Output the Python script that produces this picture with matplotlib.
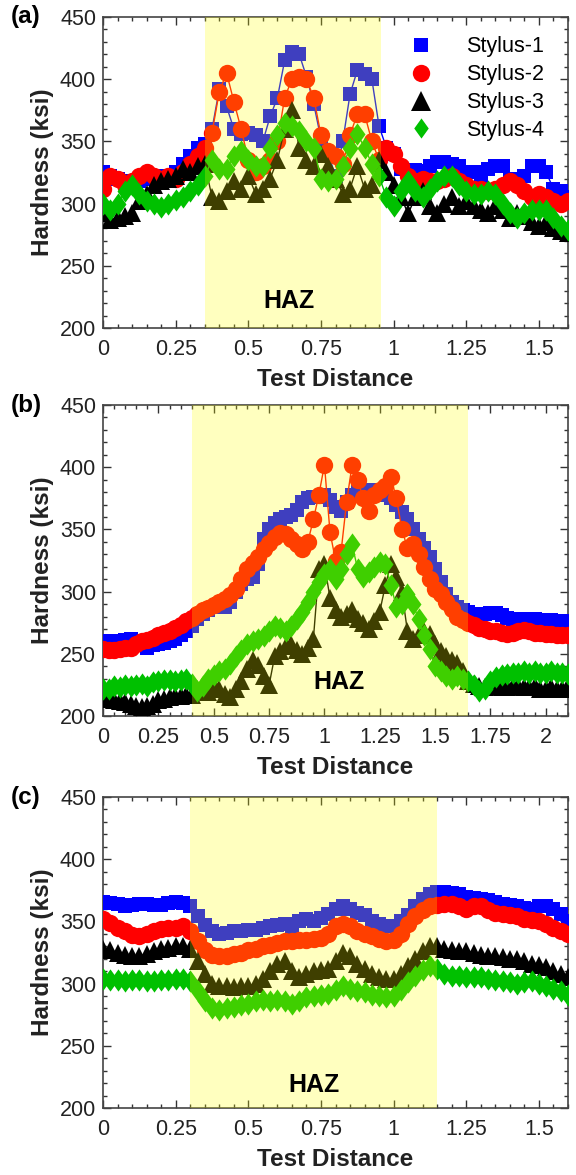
import numpy as np
import matplotlib.pyplot as plt
from matplotlib.ticker import MultipleLocator, FormatStrFormatter

plt.rcParams['font.family'] = ['Liberation Sans', 'DejaVu Sans']

# Microhardness traverses across the weld, three specimens, four styli each
x_a = np.linspace(0, 1.6, 65)
x_b = np.linspace(0, 2.1, 85)
x_c = np.linspace(0, 1.6, 65)

# (a)
s1_a = [325, 322, 320, 318, 315, 318, 320, 322, 322, 320, 325, 332, 338, 345, 348, 360,
        392, 378, 360, 356, 357, 355, 350, 370, 385, 415, 422, 420, 402, 380, 352, 340,
        322, 350, 388, 407, 404, 400, 362, 345, 340, 328, 326, 327, 326, 330, 333, 333,
        332, 330, 325, 325, 320, 328, 330, 330, 320, 318, 322, 330, 330, 325, 312, 310, 305]
s2_a = [312, 322, 320, 315, 318, 322, 325, 322, 320, 322, 320, 325, 332, 338, 345, 357,
        390, 405, 382, 360, 335, 325, 330, 335, 350, 385, 400, 402, 400, 385, 355, 342,
        338, 332, 355, 372, 372, 350, 335, 345, 340, 330, 322, 318, 320, 318, 318, 320,
        322, 318, 315, 312, 312, 310, 312, 315, 318, 315, 310, 305, 308, 305, 302, 300, 302]
s3_a = [292, 287, 288, 290, 292, 302, 308, 315, 318, 320, 322, 328, 325, 330, 332, 305,
        302, 310, 318, 312, 322, 308, 312, 320, 335, 360, 375, 345, 335, 330, 340, 330,
        320, 308, 312, 330, 312, 315, 335, 325, 315, 305, 292, 305, 310, 298, 292, 300,
        305, 298, 302, 298, 295, 292, 298, 295, 288, 292, 290, 285, 282, 285, 280, 278, 276]
s4_a = [300, 295, 300, 310, 315, 308, 302, 300, 297, 300, 303, 305, 310, 315, 322, 335,
        328, 328, 338, 342, 335, 330, 330, 345, 355, 365, 362, 358, 350, 345, 320, 318,
        320, 330, 345, 356, 345, 332, 322, 305, 298, 310, 318, 310, 305, 312, 318, 322,
        322, 315, 310, 308, 308, 310, 308, 300, 292, 288, 292, 295, 295, 295, 288, 282, 279]

# (b)
s1_b = [260, 260, 260, 260, 261, 262, 260, 257, 255, 257, 258, 259, 260, 262, 265, 268,
        272, 278, 282, 285, 288, 290, 288, 292, 300, 306, 310, 312, 322, 342, 350, 355,
        358, 360, 362, 366, 372, 375, 376, 376, 378, 374, 368, 365, 372, 378, 380, 380,
        382, 380, 380, 378, 375, 370, 364, 358, 350, 342, 335, 328, 318, 308, 298, 292,
        288, 285, 284, 282, 280, 282, 283, 283, 281, 279, 278, 278, 278, 278, 278, 277,
        277, 277, 276, 276, 275]
s2_b = [254, 253, 253, 254, 255, 255, 258, 260, 261, 263, 265, 267, 268, 271, 273, 276,
        279, 282, 285, 287, 289, 292, 294, 297, 302, 310, 318, 323, 328, 334, 339, 344,
        347, 346, 342, 338, 334, 340, 358, 378, 402, 348, 325, 332, 372, 402, 390, 375,
        365, 378, 382, 385, 392, 375, 350, 335, 338, 330, 320, 310, 302, 298, 292, 286,
        280, 277, 275, 273, 271, 270, 268, 268, 267, 266, 267, 268, 269, 268, 267, 267,
        266, 266, 265, 265, 265]
s3_b = [216, 214, 213, 212, 211, 210, 208, 207, 208, 210, 213, 214, 215, 216, 216, 217,
        217, 222, 220, 219, 225, 222, 218, 215, 222, 228, 238, 245, 241, 232, 225, 248,
        252, 256, 258, 253, 250, 255, 262, 318, 322, 295, 285, 280, 282, 285, 278, 275,
        270, 276, 284, 305, 322, 312, 300, 268, 262, 265, 268, 266, 258, 252, 248, 245,
        243, 236, 228, 226, 224, 223, 224, 224, 223, 223, 224, 224, 223, 223, 224, 222,
        222, 223, 222, 222, 224]
s4_b = [222, 222, 224, 223, 225, 224, 225, 226, 224, 227, 228, 229, 229, 228, 229, 230,
        226, 220, 224, 230, 233, 236, 238, 242, 248, 253, 258, 260, 262, 264, 268, 272,
        271, 268, 272, 278, 284, 292, 300, 308, 314, 318, 310, 318, 330, 338, 318, 312,
        316, 320, 324, 322, 305, 288, 290, 298, 290, 278, 265, 254, 240, 236, 232, 230,
        232, 230, 228, 225, 220, 222, 228, 231, 233, 234, 235, 235, 236, 235, 236, 235,
        235, 236, 235, 235, 234]

# (c)
s1_c = [366, 365, 364, 362, 363, 364, 364, 363, 363, 365, 366, 365, 362, 354, 347, 342,
        340, 341, 342, 342, 343, 343, 345, 346, 347, 348, 345, 350, 352, 350, 353, 356,
        360, 362, 360, 357, 355, 350, 348, 346, 346, 350, 355, 362, 368, 372, 374, 374,
        373, 372, 370, 369, 368, 367, 366, 364, 363, 362, 361, 360, 362, 362, 360, 356, 350]
s2_c = [352, 349, 345, 342, 339, 338, 340, 342, 344, 345, 345, 346, 342, 334, 327, 323,
        322, 322, 324, 325, 327, 328, 330, 331, 333, 334, 334, 335, 335, 336, 337, 340,
        346, 348, 346, 342, 340, 338, 336, 334, 335, 340, 348, 354, 359, 362, 363, 364,
        364, 362, 360, 362, 362, 359, 357, 356, 355, 354, 352, 351, 350, 348, 345, 342, 340]
s3_c = [328, 327, 325, 323, 322, 322, 324, 326, 328, 329, 330, 330, 328, 318, 308, 300,
        298, 298, 297, 298, 298, 300, 304, 310, 316, 318, 310, 305, 308, 310, 311, 312,
        318, 325, 322, 316, 312, 308, 305, 304, 304, 308, 314, 320, 326, 330, 330, 328,
        327, 326, 326, 325, 323, 322, 322, 321, 320, 320, 318, 316, 315, 313, 310, 308, 305]
s4_c = [304, 303, 303, 302, 303, 303, 302, 302, 303, 303, 304, 304, 302, 294, 286, 280,
        279, 280, 281, 283, 284, 286, 287, 286, 287, 286, 284, 286, 289, 290, 291, 292,
        295, 298, 296, 294, 293, 291, 290, 289, 290, 295, 301, 306, 311, 314, 312, 308,
        306, 306, 305, 305, 305, 304, 303, 302, 301, 300, 301, 302, 300, 298, 296, 294, 291]

haz_a = (0.35, 0.955)
haz_b = (0.40, 1.65)
haz_c = (0.30, 1.15)

labels = ['Stylus-1', 'Stylus-2', 'Stylus-3', 'Stylus-4']
colors = ['#0000ff', '#ff0000', '#000000', '#00c000']
diamond = [(0, 1), (0.72, 0), (0, -1), (-0.72, 0), (0, 1)]
markers = ['s', 'o', '^', diamond]
sizes = [10.5, 12.5, 13.5, 16]

fig = plt.figure(figsize=(5.76, 11.75), dpi=100)
ax_a = fig.add_axes([0.179, 0.7209, 0.807, 0.2647])
ax_b = fig.add_axes([0.179, 0.3906, 0.807, 0.2647])
ax_c = fig.add_axes([0.179, 0.0570, 0.807, 0.2647])


def panel(ax, x, series, haz, xmax, tag, haz_xy):
    for y, lab, c, m, ms in zip(series, labels, colors, markers, sizes):
        ax.plot(x, y, color=c, marker=m, ms=ms, mec=c, mew=0, lw=1, label=lab, zorder=3)
    # translucent yellow band over the heat-affected zone
    ax.axvspan(haz[0], haz[1], color='yellow', alpha=0.25, lw=0, zorder=5)
    ax.text(haz_xy[0], haz_xy[1], 'HAZ', fontsize=18, fontweight='bold',
            ha='center', va='center', zorder=6)
    ax.set_xlim(0, xmax)
    ax.set_ylim(200, 450)
    ax.xaxis.set_major_locator(MultipleLocator(0.25))
    ax.xaxis.set_minor_locator(MultipleLocator(0.05))
    ax.xaxis.set_major_formatter(FormatStrFormatter('%g'))
    ax.yaxis.set_major_locator(MultipleLocator(50))
    ax.yaxis.set_minor_locator(MultipleLocator(10))
    ax.tick_params(which='both', direction='in', top=True, right=True,
                   color='#333333', width=1)
    ax.tick_params(which='major', length=6, labelsize=15.5, labelcolor='#222222')
    ax.tick_params(axis='x', which='major', pad=8)
    ax.tick_params(axis='y', which='major', pad=5)
    ax.tick_params(which='minor', length=3)
    for sp in ax.spines.values():
        sp.set_color('#444444')
        sp.set_linewidth(1.2)
    ax.set_xlabel('Test Distance', fontsize=17.5, fontweight='bold', color='#222222', labelpad=6)
    ax.set_ylabel('Hardness (ksi)', fontsize=17.5, fontweight='bold', color='#222222', labelpad=4)
    ax.text(-0.198, 1.0, tag, transform=ax.transAxes, fontsize=17.5, fontweight='bold',
            ha='left', va='center')


panel(ax_a, x_a, [s1_a, s2_a, s3_a, s4_a], haz_a, 1.6, '(a)', (0.641, 222))
panel(ax_b, x_b, [s1_b, s2_b, s3_b, s4_b], haz_b, 2.1, '(b)', (1.067, 227))
panel(ax_c, x_c, [s1_c, s2_c, s3_c, s4_c], haz_c, 1.6, '(c)', (0.725, 218.5))

handles = [plt.Line2D([], [], ls='none', marker=m, ms=ms, color=c, mew=0)
           for c, m, ms in zip(colors, markers, [10, 12.5, 14.5, 14.5])]
ax_a.legend(handles, labels, loc='upper right', frameon=False, fontsize=15.5,
            handletextpad=1.1, labelspacing=0.32, bbox_to_anchor=(0.99, 1.0))

fig.savefig('out.png', dpi=100)
